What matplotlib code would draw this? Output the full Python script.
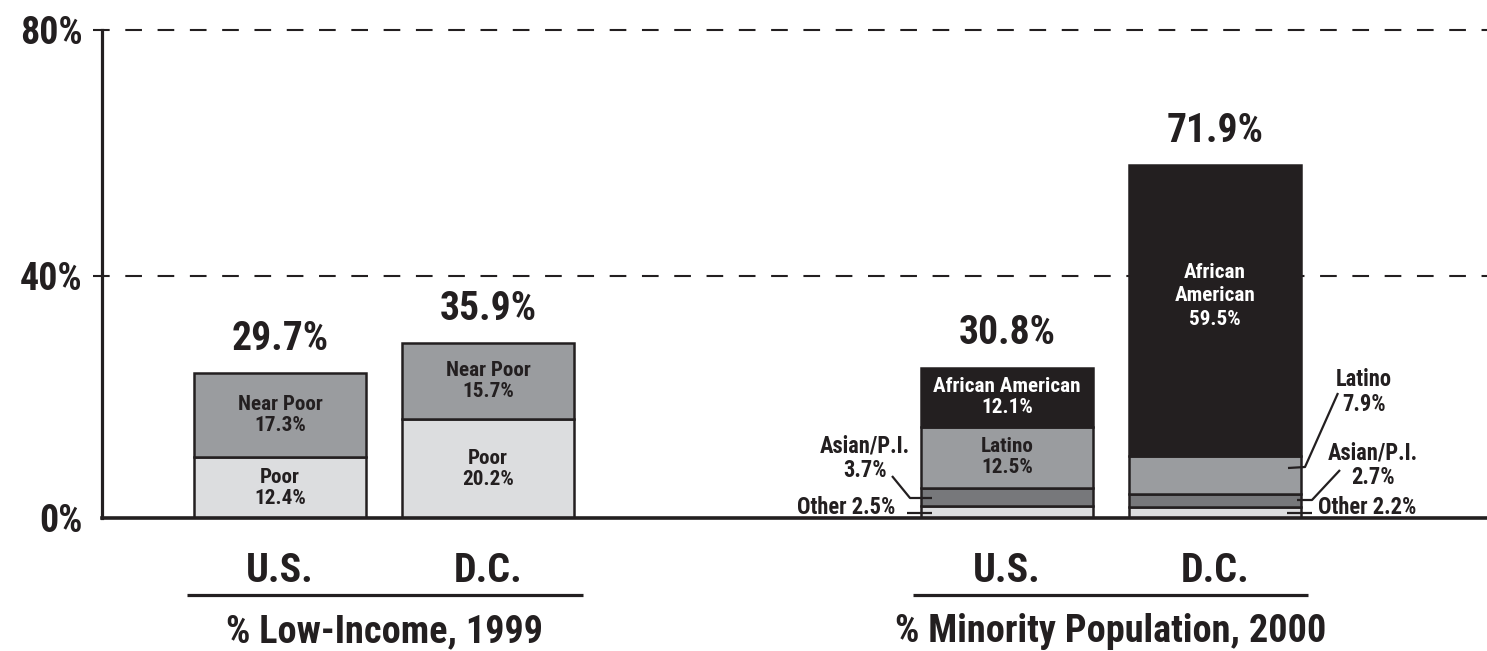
import matplotlib
matplotlib.use("Agg")
import matplotlib.pyplot as plt
from matplotlib import font_manager as fm
from matplotlib.textpath import TextPath

# ---------------- data ----------------
group_titles = ["% Low-Income, 1999", "% Minority Population, 2000"]
bar_labels = ["U.S.", "D.C.", "U.S.", "D.C."]

income_segments = ["Poor", "Near Poor"]
income_us = [12.4, 17.3]
income_dc = [20.2, 15.7]
income_totals = ["29.7%", "35.9%"]

minority_segments = ["Other", "Asian/P.I.", "Latino", "African American"]
minority_us = [2.5, 3.7, 12.5, 12.1]
minority_dc = [2.2, 2.7, 7.9, 59.5]
minority_totals = ["30.8%", "71.9%"]

ytick_labels = ["0%", "40%", "80%"]

# ---------------- font choice: prefer a condensed bold sans ----------------
def pick_font():
    fl = fm.fontManager.ttflist

    def isbold(f):
        w = f.weight
        if isinstance(w, str):
            return w in ("bold", "heavy", "extra bold", "black", "demibold", "semibold")
        return w >= 600

    prefs = ["Liberation Sans Narrow", "Roboto Condensed", "DejaVu Sans Condensed",
             "Open Sans Condensed", "Noto Sans Condensed", "Arial Narrow"]
    for p in prefs:
        for f in fl:
            if f.name == p and isbold(f) and "italic" not in f.style and "oblique" not in f.style:
                return fm.FontProperties(fname=f.fname)
    for f in fl:
        if (("Narrow" in f.name or "Condensed" in f.name or
             f.stretch in ("condensed", "semi-condensed", "extra-condensed"))
                and isbold(f) and f.style == "normal"):
            return fm.FontProperties(fname=f.fname)
    for p in ["Roboto", "Liberation Sans", "DejaVu Sans"]:
        for f in fl:
            if f.name == p and isbold(f) and f.style == "normal":
                return fm.FontProperties(fname=f.fname)
    return fm.FontProperties(family="DejaVu Sans", weight="bold")


FP = pick_font()


def fit_size(sample, target_px, cap_px, mode="min"):
    tp = TextPath((0, 0), sample, size=10, prop=FP)
    w10 = tp.get_extents().width * 100 / 72.0
    cp = TextPath((0, 0), "H", size=10, prop=FP)
    c10 = cp.get_extents().height * 100 / 72.0
    s_w = 10 * target_px / w10
    s_h = 10 * cap_px / c10
    if mode == "min":
        return min(s_w, s_h)
    return (s_w * s_h) ** 0.5


def fp(size):
    p = FP.copy()
    p.set_size(size)
    return p


BIG = fit_size("% Minority Population, 2000", 430, 27, mode="geo")
CAT = fit_size("U.S.", 64, 28, mode="geo")
TICK = fit_size("80%", 66, 27)
TOT = fit_size("71.9%", 98, 27, mode="geo")
INNER = fit_size("African American", 150, 15)
CALL = fit_size("Other 2.5%", 98, 16)

INK = "#231f20"
C_LIGHT = "#dcdddf"
C_MID = "#9a9c9f"
C_DARK = "#77787b"
C_BLACK = "#231f20"

W, H = 1487, 651
fig = plt.figure(figsize=(W / 100, H / 100), dpi=100)
x0, x1 = 102, 1487
ybase, ytop = 518, 30
ax = fig.add_axes([x0 / W, (H - ybase) / H, (x1 - x0) / W, (ybase - ytop) / H])
ax.set_xlim(x0, x1)
ax.set_ylim(0, 100)
PX = (ybase - ytop) / 100.0  # pixels per unit


def py(p):
    """pixel row -> data y"""
    return (ybase - p) / PX


xpos = [280, 488, 1007, 1215]
bw = 172

# dashed gridlines
tick_pos = [0, 49.6, 100]
for t in tick_pos[1:]:
    ax.plot([93, x1], [t, t], color=INK, lw=1.5, linestyle=(0, (8, 7.5)),
            clip_on=False, zorder=1)

ax.set_yticks(tick_pos)
ax.set_yticklabels(ytick_labels, color=INK)
for lab in ax.get_yticklabels():
    lab.set_fontproperties(fp(TICK))
ax.tick_params(axis="y", length=0, pad=14)
ax.set_xticks([])
for s in ["top", "right"]:
    ax.spines[s].set_visible(False)
ax.spines["left"].set_linewidth(2.3)
ax.spines["bottom"].set_linewidth(2.6)
for s in ["left", "bottom"]:
    ax.spines[s].set_color(INK)
    ax.spines[s].set_zorder(6)

edge = dict(edgecolor=INK, linewidth=1.8, zorder=3)

inc_colors = [C_LIGHT, C_MID]
for xi, vals in zip(xpos[:2], [income_us, income_dc]):
    bottom = 0
    for v, c in zip(vals, inc_colors):
        ax.bar(xi, v, bw, bottom=bottom, color=c, **edge)
        bottom += v

min_colors = [C_LIGHT, C_DARK, C_MID, C_BLACK]
for xi, vals in zip(xpos[2:], [minority_us, minority_dc]):
    bottom = 0
    for v, c in zip(vals, min_colors):
        ax.bar(xi, v, bw, bottom=bottom, color=c, **edge)
        bottom += v

# totals
all_vals = [income_us, income_dc, minority_us, minority_dc]
all_tot = income_totals + minority_totals
for xi, vals, lab in zip(xpos, all_vals, all_tot):
    ax.annotate(lab, (xi, sum(vals)), xytext=(0, 11), textcoords="offset points",
                ha="center", va="bottom", fontproperties=fp(TOT), color=INK)


def seg_mid(vals, i):
    return sum(vals[:i]) + vals[i] / 2


for xi, vals in zip(xpos[:2], [income_us, income_dc]):
    for i, name in enumerate(income_segments):
        ax.text(xi, seg_mid(vals, i), f"{name}\n{vals[i]}%", ha="center", va="center",
                fontproperties=fp(INNER), color=INK, linespacing=1.15, zorder=5)

ax.text(xpos[2], seg_mid(minority_us, 3), f"{minority_segments[3]}\n{minority_us[3]}%",
        ha="center", va="center", fontproperties=fp(INNER), color="white",
        linespacing=1.15, zorder=5)
ax.text(xpos[2], seg_mid(minority_us, 2), f"{minority_segments[2]}\n{minority_us[2]}%",
        ha="center", va="center", fontproperties=fp(INNER), color=INK,
        linespacing=1.15, zorder=5)
ax.text(xpos[3], py(296), "African\nAmerican\n" + f"{minority_dc[3]}%",
        ha="center", va="center", fontproperties=fp(INNER), color="white",
        linespacing=1.3, zorder=5)

# callouts
lk = dict(color=INK, lw=1.6, clip_on=False, zorder=7, solid_capstyle="butt")
ax.text(865, py(458), f"{minority_segments[1]}\n{minority_us[1]}%", ha="center", va="center",
        fontproperties=fp(CALL), color=INK, linespacing=1.1)
ax.plot([892, 910, 932], [py(476), py(498), py(498)], **lk)
ax.text(895, py(507), f"{minority_segments[0]} {minority_us[0]}%", ha="right", va="center",
        fontproperties=fp(CALL), color=INK)
ax.plot([907, 932], [py(513), py(513)], **lk)
ax.text(1364, py(392), f"{minority_segments[2]}\n{minority_dc[2]}%", ha="center", va="center",
        fontproperties=fp(CALL), color=INK, linespacing=1.1)
ax.plot([1288, 1305, 1338], [py(468), py(467), py(393)], **lk)
ax.text(1373, py(465), f"{minority_segments[1]}\n{minority_dc[1]}%", ha="center", va="center",
        fontproperties=fp(CALL), color=INK, linespacing=1.1)
ax.plot([1297, 1312, 1340], [py(500), py(500), py(470)], **lk)
ax.text(1318, py(508), f"{minority_segments[0]} {minority_dc[0]}%", ha="left", va="center",
        fontproperties=fp(CALL), color=INK)
ax.plot([1287, 1312], [py(513), py(513)], **lk)

# category labels, underlines, group titles
for xi, lab in zip(xpos, bar_labels):
    ax.text(xi, py(582), lab, ha="center", va="baseline", fontproperties=fp(CAT),
            color=INK, clip_on=False)
for (a, b), title in zip([(187, 583), (913, 1308)], group_titles):
    ax.plot([a, b], [py(595), py(595)], color=INK, lw=2.3, clip_on=False,
            solid_capstyle="butt")
    ax.text((a + b) / 2, py(642), title, ha="center", va="baseline",
            fontproperties=fp(BIG), color=INK, clip_on=False)

fig.savefig("out.png", dpi=100)
